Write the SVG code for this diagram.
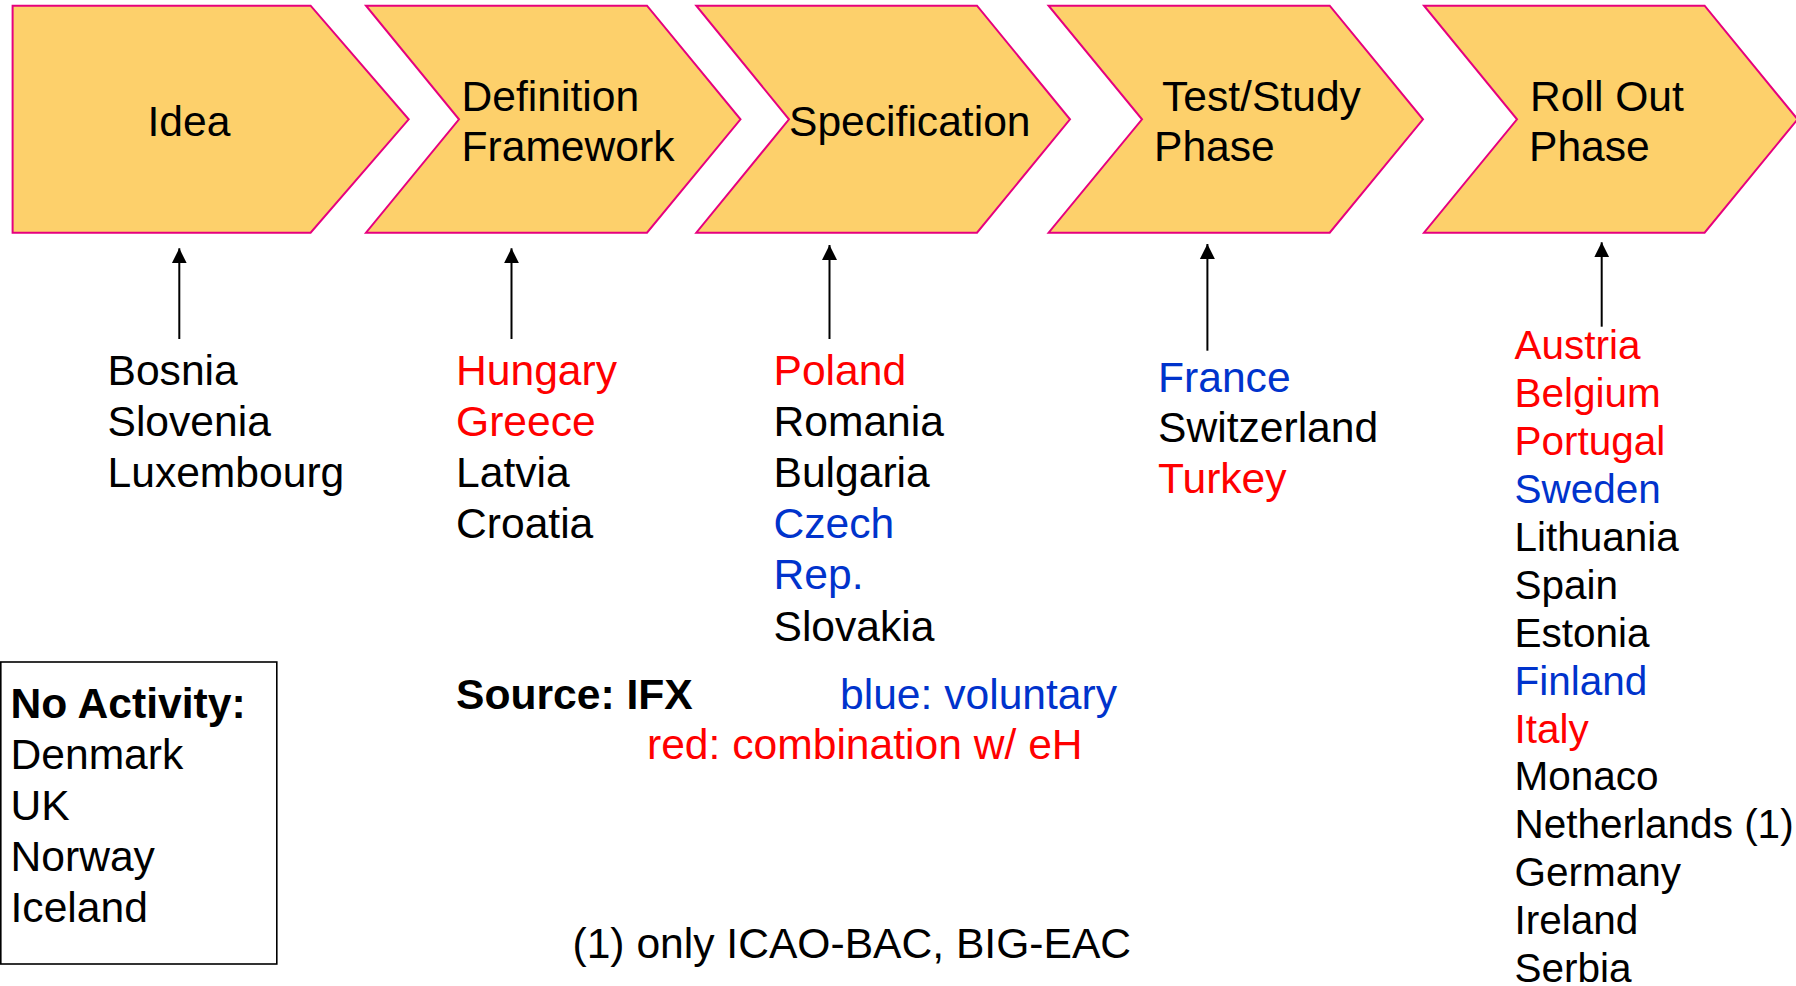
<svg xmlns="http://www.w3.org/2000/svg" width="1796" height="986" viewBox="0 0 1796 986">
<defs>
<style>
text{font-family:"Liberation Sans",Arial,sans-serif;font-size:42.6px;fill:#000}
.phase{fill:#FDD06B;stroke:#E6007E;stroke-width:2;stroke-linejoin:miter}
.r{fill:#FF0000}
.b{fill:#0033CC}
.bold{font-weight:bold}
.ro text{font-size:40.5px}
.conn{stroke:#000;stroke-width:2;fill:none;marker-end:url(#ah)}
</style>
<marker id="ah" markerUnits="userSpaceOnUse" markerWidth="16" markerHeight="16" refX="15" refY="8" orient="auto">
<path d="M0,0.5 L15,8 L0,15.5 Z" fill="#000"/>
</marker>
</defs>
<rect width="1796" height="986" fill="#fff"/>

<g id="phase-idea">
<path class="phase" d="M12.6,5.7 H310.6 L408.7,119.3 L310.6,232.7 H12.6 Z"/>
<text x="147.5" y="135.5">Idea</text>
</g>
<g id="phase-definition">
<path class="phase" d="M366,5.7 H647 L740.5,119.3 L647,232.7 H366 L459,119.3 Z"/>
<text x="461.5" y="110.5">Definition</text>
<text x="461.5" y="160.5">Framework</text>
</g>
<g id="phase-specification">
<path class="phase" d="M696.3,5.7 H977 L1070,119.3 L977,232.7 H696.3 L789,119.3 Z"/>
<text x="789" y="135.5">Specification</text>
</g>
<g id="phase-test">
<path class="phase" d="M1048.6,5.7 H1329.7 L1423,119.3 L1329.7,232.7 H1048.6 L1142,119.3 Z"/>
<text x="1162" y="110.5">Test/Study</text>
<text x="1154" y="160.5">Phase</text>
</g>
<g id="phase-rollout">
<path class="phase" d="M1424,5.7 H1704.6 L1797.6,119.3 L1704.6,232.7 H1424 L1517,119.3 Z"/>
<text x="1530" y="110.5">Roll Out</text>
<text x="1529" y="160.5">Phase</text>
</g>

<g id="connectors">
<path class="conn" d="M179.3,339 V248.3"/>
<path class="conn" d="M511.5,339 V248.3"/>
<path class="conn" d="M829.5,339 V245"/>
<path class="conn" d="M1207.4,350.7 V244"/>
<path class="conn" d="M1601.7,326.7 V242.3"/>
</g>

<g id="list-idea">
<text x="107.5" y="384.5">Bosnia</text>
<text x="107.5" y="435.7">Slovenia</text>
<text x="107.5" y="486.9">Luxembourg</text>
</g>
<g id="list-definition">
<text class="r" x="456" y="384.5">Hungary</text>
<text class="r" x="456" y="435.7">Greece</text>
<text x="456" y="486.9">Latvia</text>
<text x="456" y="538.1">Croatia</text>
</g>
<g id="list-specification">
<text class="r" x="773.5" y="384.5">Poland</text>
<text x="773.5" y="435.7">Romania</text>
<text x="773.5" y="486.9">Bulgaria</text>
<text class="b" x="773.5" y="538.1">Czech</text>
<text class="b" x="773.5" y="589.3">Rep.</text>
<text x="773.5" y="640.5">Slovakia</text>
</g>
<g id="list-test">
<text class="b" x="1158" y="391.7">France</text>
<text x="1158" y="442.2">Switzerland</text>
<text class="r" x="1158" y="492.7">Turkey</text>
</g>
<g id="list-rollout" class="ro">
<text class="r" x="1514.5" y="359.3">Austria</text>
<text class="r" x="1514.5" y="407.2">Belgium</text>
<text class="r" x="1514.5" y="455.1">Portugal</text>
<text class="b" x="1514.5" y="503">Sweden</text>
<text x="1514.5" y="550.9">Lithuania</text>
<text x="1514.5" y="598.8">Spain</text>
<text x="1514.5" y="646.7">Estonia</text>
<text class="b" x="1514.5" y="694.6">Finland</text>
<text class="r" x="1514.5" y="742.5">Italy</text>
<text x="1514.5" y="790.4">Monaco</text>
<text x="1514.5" y="838.3">Netherlands (1)</text>
<text x="1514.5" y="886.2">Germany</text>
<text x="1514.5" y="934.1">Ireland</text>
<text x="1514.5" y="982">Serbia</text>
</g>

<g id="no-activity">
<rect x="0.8" y="662" width="276" height="302" fill="#fff" stroke="#000" stroke-width="1.6"/>
<text class="bold" x="10.5" y="718.3">No Activity:</text>
<text x="10.5" y="769.3">Denmark</text>
<text x="10.5" y="820.3">UK</text>
<text x="10.5" y="871">Norway</text>
<text x="10.5" y="922">Iceland</text>
</g>

<g id="legend">
<text class="bold" x="456" y="708.7">Source: IFX</text>
<text class="b" x="840" y="708.7">blue: voluntary</text>
<text class="r" x="647" y="759.3">red: combination w/ eH</text>
</g>
<g id="footnote">
<text x="572.5" y="958.3">(1) only ICAO-BAC, BIG-EAC</text>
</g>
</svg>
